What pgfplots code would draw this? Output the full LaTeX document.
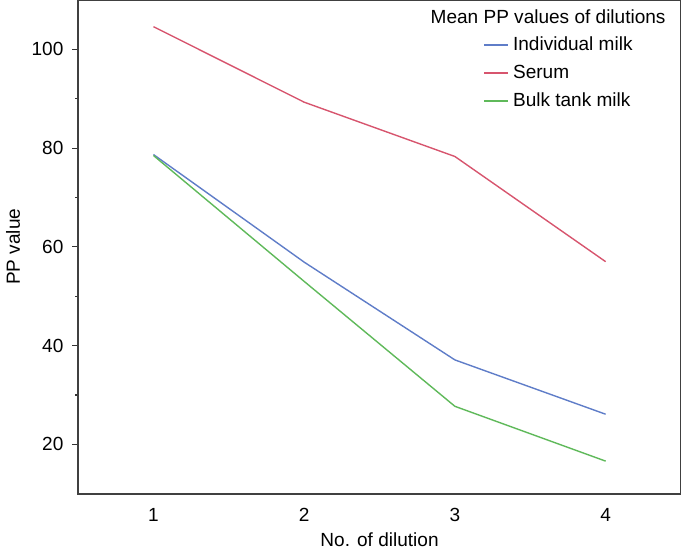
\documentclass[border=0pt]{standalone}
\usepackage{fontspec}
\setmainfont{Liberation Sans}
\usepackage{pgfplots}
\pgfplotsset{compat=1.18}
\definecolor{cblue}{RGB}{95,125,200}
\definecolor{cred}{RGB}{215,85,110}
\definecolor{cgreen}{RGB}{95,185,90}
\begin{document}
\fontsize{9.5}{11}\selectfont
\begin{tikzpicture}
\begin{axis}[
  scale only axis,
  width=301pt, height=246.5pt,
  xmin=0.5, xmax=4.5, ymin=10, ymax=110,
  xtick={1,2,3,4},
  ytick={20,40,60,80,100},
  minor y tick num=1,
  tick align=outside,
  major tick length=3pt,
  minor tick length=1.5pt,
  xtick style={draw=none},
  ytick style={black!80, line width=0.6pt},
  minor tick style={black!80, line width=0.6pt},
  axis line style={black!75, line width=0.8pt},
  tick label style={font=\fontsize{9.5}{11}\selectfont},
  /pgf/number format/assume math mode=true,
  xticklabel style={yshift=-1pt},
  yticklabel style={xshift=-1pt},
  xlabel={No. of dilution},
  ylabel={PP value},
  label style={font=\fontsize{9.5}{11}\selectfont},
  xlabel style={at={(axis description cs:0.5,-0.0933)}, anchor=center},
  ylabel style={at={(axis description cs:-0.108,0.5)}, anchor=center},
  legend style={draw=none, fill=none, at={(axis description cs:0.672,0.935)}, anchor=north west,
    font=\fontsize{9.5}{11}\selectfont, row sep=1.8pt, inner sep=0pt, cells={anchor=west}},
  legend image code/.code={\draw[#1] (0pt,0pt) -- (12pt,0pt);},
]
\addplot[cblue, line width=0.7pt] coordinates {(1,78.7) (2,56.9) (3,37.1) (4,26.1)};
\addlegendentry{Individual milk}
\addplot[cred, line width=0.7pt] coordinates {(1,104.6) (2,89.3) (3,78.3) (4,57.0)};
\addlegendentry{Serum}
\addplot[cgreen, line width=0.7pt] coordinates {(1,78.5) (2,53.0) (3,27.7) (4,16.6)};
\addlegendentry{Bulk tank milk}
\node[anchor=east, inner sep=0pt] at (axis description cs:0.975,0.9655) {Mean PP values of dilutions};
\end{axis}
\pgfresetboundingbox
\path (-39pt,-28.5pt) rectangle (301pt,246.5pt);
\end{tikzpicture}
\end{document}
